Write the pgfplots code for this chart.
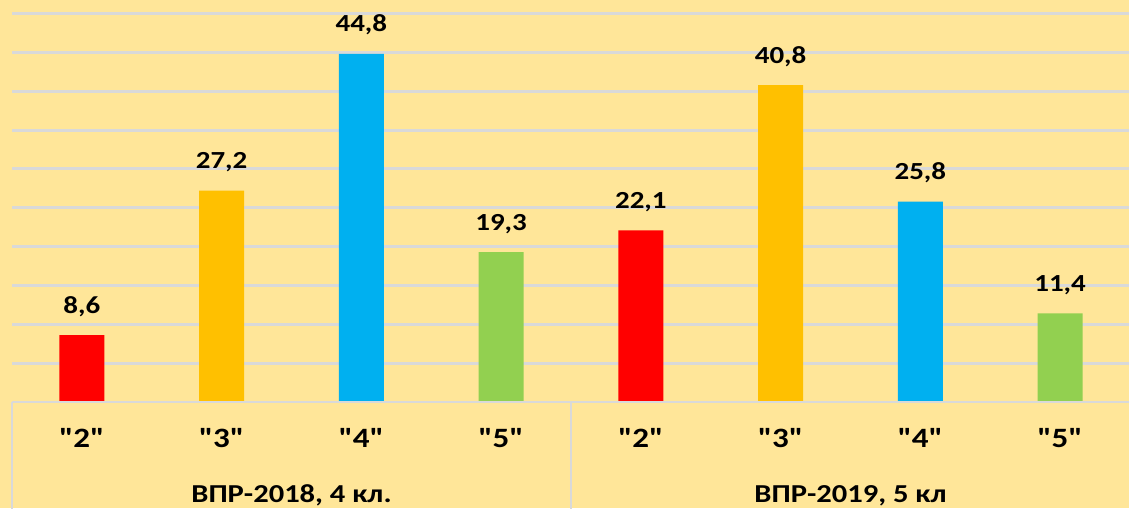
\documentclass[border=0pt]{standalone}
\usepackage{graphicx}
\usepackage{pgfplots}
\pgfplotsset{compat=1.18}
\usepackage{fontspec}
\setmainfont{Carlito}[Ligatures=TeXOff]

\definecolor{bg}{HTML}{FFE699}
\definecolor{grd}{HTML}{D9D9D9}
\definecolor{cRed}{HTML}{FF0000}
\definecolor{cYel}{HTML}{FFC000}
\definecolor{cBlu}{HTML}{00B0F0}
\definecolor{cGrn}{HTML}{92D050}

% Excel text here is drawn a little wider than Carlito
\newcommand{\wide}[1]{\scalebox{1.18}[1]{#1}}

\begin{document}
\begin{tikzpicture}
  \useasboundingbox (-9pt,-79.5pt) rectangle (837.75pt,301.5pt);
  \fill[bg] (-9pt,-79.5pt) rectangle (837.75pt,301.5pt);
  \clip (-9pt,-79.5pt) rectangle (837.75pt,301.5pt);
  \begin{axis}[
    at={(0,0)}, anchor=south west,
    scale only axis,
    width=838.5pt, height=301.5pt,
    xmin=-0.5, xmax=7.5,
    ymin=0, ymax=51.75,
    clip=false,
    ybar, bar width=33.75pt, bar shift=0pt,
    axis line style={draw=none},
    major tick length=0pt,
    ytick={5,10,...,50}, yticklabels={},
    ymajorgrids,
    grid style={grd, line width=2.2pt},
    xtick={0,...,7},
    xticklabels={\wide{"2"},\wide{"3"},\wide{"4"},\wide{"5"},\wide{"2"},\wide{"3"},\wide{"4"},\wide{"5"}},
    xticklabel style={font=\bfseries\fontsize{21}{21}\selectfont, anchor=base, yshift=-33.75pt},
    nodes near coords={\wide{\pgfmathprintnumber{\pgfplotspointmeta}}},
    every node near coord/.append style={font=\bfseries\fontsize{18.4}{18.4}\selectfont, anchor=base, yshift=16.5pt},
    /pgf/number format/assume math mode=true,
    /pgf/number format/use comma,
    /pgf/number format/fixed,
    /pgf/number format/fixed zerofill,
    /pgf/number format/precision=1,
  ]
    % marks "2"
    \addplot[fill=cRed, draw=none] coordinates {(0,8.6) (4,22.1)};
    % marks "3"
    \addplot[fill=cYel, draw=none] coordinates {(1,27.2) (5,40.8)};
    % marks "4"
    \addplot[fill=cBlu, draw=none] coordinates {(2,44.8) (6,25.8)};
    % marks "5"
    \addplot[fill=cGrn, draw=none] coordinates {(3,19.3) (7,11.4)};

    % category table lines
    \draw[grd, line width=2pt] (axis cs:-0.5,0) -- (axis cs:7.5,0);
    \draw[grd, line width=2pt] (axis cs:-0.5,0) -- ++(0pt,-90pt);
    \draw[grd, line width=2pt] (axis cs:3.5,0) -- ++(0pt,-90pt);
    \draw[grd, line width=2pt] (axis cs:7.5,0) -- ++(0pt,-90pt);

    \node[anchor=base, yshift=-75pt, font=\bfseries\fontsize{19.4}{19.4}\selectfont] at (axis cs:1.5,0) {\wide{ВПР-2018, 4 кл.}};
    \node[anchor=base, yshift=-75pt, font=\bfseries\fontsize{19.4}{19.4}\selectfont] at (axis cs:5.5,0) {\wide{ВПР-2019, 5 кл}};
  \end{axis}
\end{tikzpicture}
\end{document}
